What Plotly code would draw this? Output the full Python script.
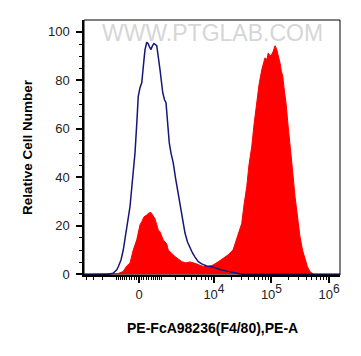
import numpy as np
import plotly.graph_objects as go

# Biexponential-style display: t = asinh(value / 1000)
W = 1000.0
def tr(v):
    return np.arcsinh(np.asarray(v, dtype=float) / W)

# ---- data (x in transformed display units t, y = relative cell number) ----
isotype_t = [-2.2, -1.24, -1.04, -0.89, -0.83, -0.72, -0.63, -0.56, -0.46, -0.36, -0.26, -0.16,
             -0.08, -0.03, 0.04, 0.11, 0.18, 0.24, 0.31, 0.36, 0.41, 0.48, 0.54, 0.60, 0.71,
             0.78, 0.84, 0.95, 1.02, 1.08, 1.14, 1.21, 1.28, 1.37, 1.46, 1.57, 1.66, 1.77,
             1.84, 1.94, 2.04, 2.14, 2.24, 2.37, 2.51, 2.71, 2.96, 3.24, 3.56, 3.91, 4.12, 8.04]
isotype_y = [0, 0, 0.4, 1.8, 3.1, 5.9, 10.0, 14.2, 21.6, 27.9, 39.0, 50.1,
             63.8, 73.4, 77.0, 79.0, 86.5, 92.7, 95.7, 95.2, 94.0, 92.7, 94.3, 95.2, 94.3,
             89.4, 84.4, 74.9, 72.0, 70.8, 63.8, 54.3, 50.0, 46.0, 39.8, 33.6, 28.6, 22.4,
             17.0, 13.3, 10.9, 8.8, 7.1, 5.2, 4.3, 3.4, 3.0, 2.0, 1.2, 0.3, 0, 0]

sample_t = [-2.2, -1.04, -0.84, -0.64, -0.49, -0.36, -0.23, -0.09, 0.04, 0.11, 0.20, 0.31,
            0.40, 0.48, 0.57, 0.64, 0.77, 0.84, 0.97, 1.11, 1.17, 1.28, 1.44, 1.57, 1.71,
            1.88, 2.04, 2.24, 2.40, 2.57, 2.76, 2.96, 3.16, 3.36, 3.56, 3.76, 3.91, 4.00,
            4.11, 4.20, 4.31, 4.40, 4.51, 4.60, 4.71, 4.80, 4.91, 4.98, 5.04, 5.11, 5.17,
            5.24, 5.30, 5.37, 5.44, 5.50, 5.53, 5.60, 5.64, 5.70, 5.75, 5.80, 5.88, 5.96,
            6.04, 6.14, 6.24, 6.34, 6.44, 6.54, 6.64, 6.74, 6.84, 6.96, 7.08, 8.04]
sample_y = [0, 0, 0.3, 1.1, 3.4, 4.7, 10.0, 14.2, 20.4, 21.7, 23.7, 24.5,
            25.3, 25.5, 24.1, 22.9, 18.3, 17.5, 14.2, 12.5, 10.0, 8.8, 7.3, 6.3, 5.2,
            4.7, 5.1, 4.5, 3.8, 3.2, 3.2, 3.8, 5.1, 6.7, 8.0, 10.0, 15.0, 17.5,
            21.0, 28.6, 36.2, 45.2, 52.7, 61.7, 70.7, 78.2, 84.4, 87.3, 89.3, 88.5, 91.3,
            90.2, 90.6, 92.0, 94.3, 93.1, 92.0, 89.4, 87.2, 83.6, 81.7, 77.0, 70.7, 61.7,
            54.1, 43.1, 32.1, 23.3, 15.5, 10.0, 5.9, 3.0, 1.1, 0.1, 0, 0]

major_values = [0, 1e4, 1e5, 1e6]
major_labels = ["0",
                "10<sup><span style='font-size:12px'>4</span></sup>",
                "10<sup><span style='font-size:12px'>5</span></sup>",
                "10<sup><span style='font-size:12px'>6</span></sup>"]
minor_values = ([-4000, -3000, -2000, -1000] + list(range(-900, 1000, 100)) +
                list(range(1000, 10000, 1000)) + list(range(20000, 100000, 10000)) +
                list(range(200000, 1000000, 100000)))

y_ticks = [0, 20, 40, 60, 80, 100]

font_family = "Arial, Liberation Sans, sans-serif"

fig = go.Figure()
fig.add_trace(go.Scatter(x=sample_t, y=sample_y, mode="lines", fill="tozeroy",
                         fillcolor="#ff0000", line=dict(color="#ff0000", width=1),
                         hoverinfo="skip", showlegend=False))
fig.add_trace(go.Scatter(x=isotype_t, y=isotype_y, mode="lines",
                         line=dict(color="#16167a", width=1.5),
                         hoverinfo="skip", showlegend=False))

fig.update_layout(
    width=361, height=356,
    margin=dict(l=84, r=21, t=20, b=81),
    paper_bgcolor="white", plot_bgcolor="white",
    font=dict(family=font_family, size=13, color="#222222"),
    xaxis=dict(range=[-2.2, 8.04], showgrid=False, zeroline=False,
               showline=True, linecolor="black", linewidth=2,
               tickmode="array", tickvals=list(tr(major_values)), ticktext=major_labels,
               ticks="outside", ticklen=6, tickwidth=1.5, tickcolor="black",
               tickfont=dict(size=13, color="#222222"),
               minor=dict(tickmode="array", tickvals=list(tr(minor_values)),
                          ticks="outside", ticklen=3, tickwidth=1, tickcolor="black")),
    yaxis=dict(range=[-0.3, 104.9], showgrid=False, zeroline=False,
               showline=True, linecolor="black", linewidth=1.5,
               tickmode="array", tickvals=y_ticks,
               ticks="outside", ticklen=6, tickwidth=1.5, tickcolor="black",
               tickfont=dict(size=13, color="#222222"), ticklabelstandoff=4,
               minor=dict(dtick=5, tick0=0, ticks="outside", ticklen=3, tickwidth=1,
                          tickcolor="black")),
    shapes=[dict(type="rect", xref="paper", yref="paper", x0=0, x1=1, y0=0, y1=1,
                 line=dict(color="black", width=1), fillcolor="rgba(0,0,0,0)", layer="above")],
    annotations=[
        dict(text="WWW.PTGLAB.COM", xref="paper", yref="paper", x=0.5, y=0.95,
             xanchor="center", yanchor="middle", showarrow=False,
             font=dict(size=23, color="#d6d6d6", family=font_family)),
        dict(text="<b>PE-FcA98236(F4/80),PE-A</b>", xref="paper", yref="paper",
             x=0.5, y=-0.208, xanchor="center", yanchor="middle", showarrow=False,
             font=dict(size=14, color="black", family=font_family)),
        dict(text="<b>Relative Cell Number</b>", xref="paper", yref="paper",
             x=-0.2207, y=0.5, xanchor="center", yanchor="middle", showarrow=False,
             textangle=-90, font=dict(size=13.5, color="black", family=font_family)),
    ],
)

fig.write_html("out.html", config={"displayModeBar": False},
               post_script="document.body.style.margin='0px';document.body.style.padding='0px';")
